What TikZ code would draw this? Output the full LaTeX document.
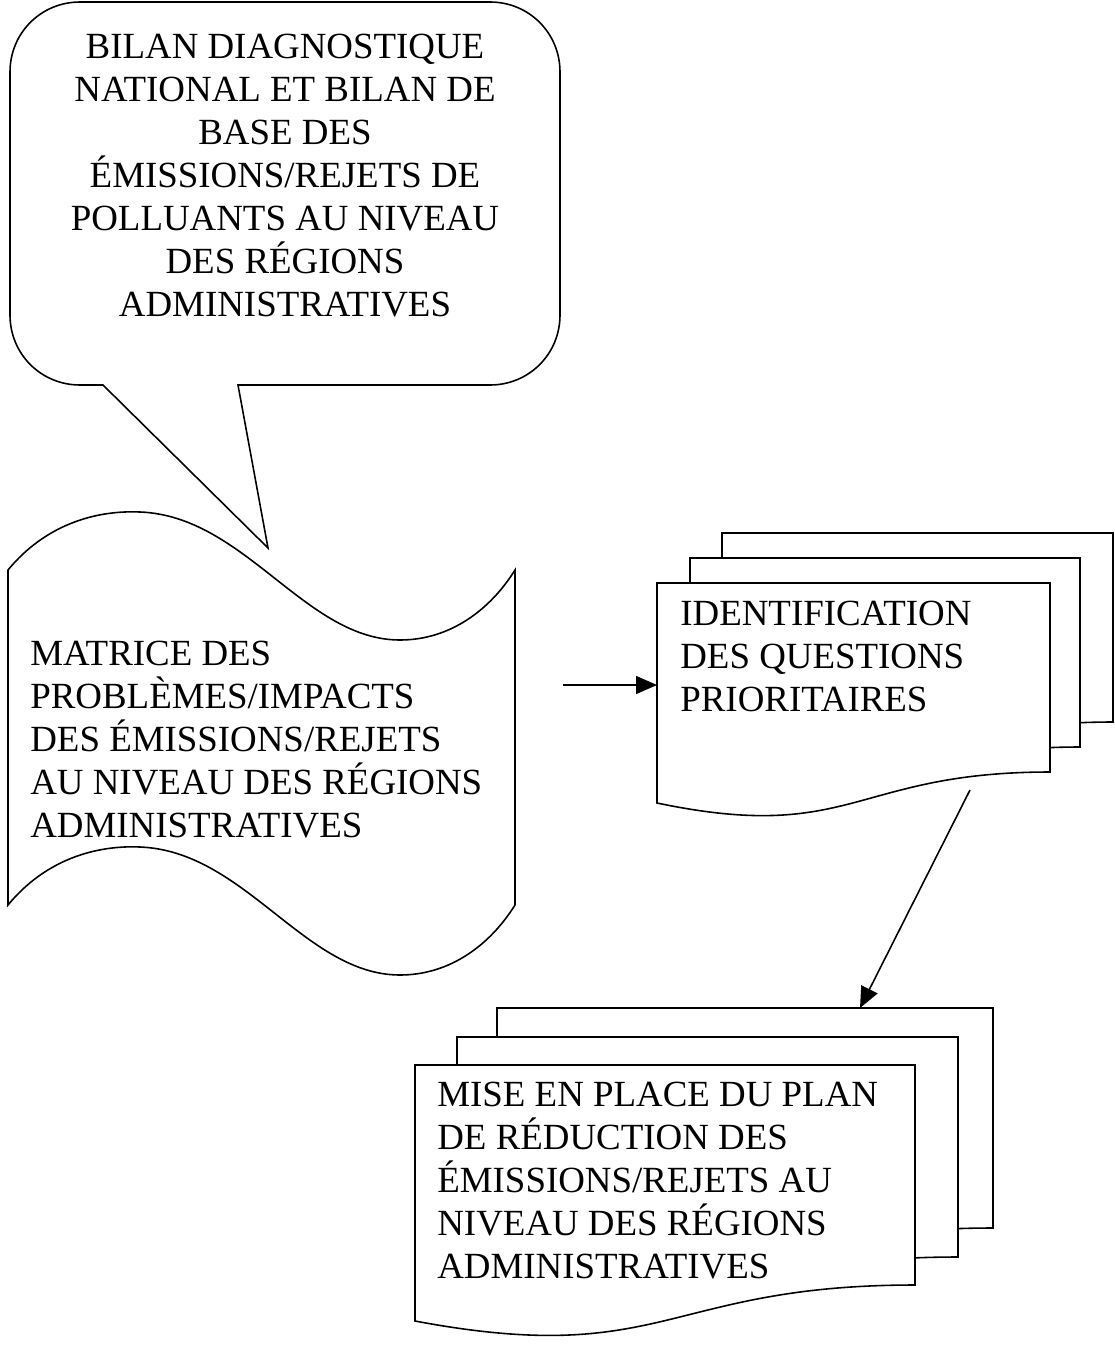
\documentclass[tikz,border=0pt]{standalone}
\usepackage{fontspec}
\setmainfont{Liberation Serif}
\usetikzlibrary{arrows.meta}

\begin{document}
\begin{tikzpicture}[x=0.02cm, y=-0.02cm,
  shapeline/.style={draw=black, fill=white, line width=0.9pt},
  doctext/.style={inner sep=0pt, font=\fontsize{21}{24.4}\selectfont},
  flow/.style={-{Triangle[length=0.42cm,width=0.36cm]}, line width=0.9pt}]

\useasboundingbox (0,0) rectangle (1115,1349);

\draw[shapeline] (103,385) -- (268,548) -- (238,385) -- (490,385) .. controls (529,385) and (560,354) .. (560,315) -- (560,72) .. controls (560,33) and (529,2) .. (490,2) -- (80,2) .. controls (41,2) and (10,33) .. (10,72) -- (10,315) .. controls (10,354) and (41,385) .. (80,385) -- cycle;
\node[doctext, align=center, anchor=base] (bilan) at (285,316) {BILAN DIAGNOSTIQUE\\NATIONAL ET BILAN DE\\BASE DES\\ÉMISSIONS/REJETS DE\\POLLUANTS AU NIVEAU\\DES RÉGIONS\\ADMINISTRATIVES};

\draw[shapeline] (8,570) .. controls (45,525) and (95,510) .. (140,512) .. controls (245,516) and (305,640) .. (400,640) .. controls (450,640) and (490,610) .. (515,570) -- (515,905) .. controls (490,945) and (450,975) .. (400,975) .. controls (305,975) and (245,851) .. (140,847) .. controls (95,845) and (45,860) .. (8,905) -- cycle;
\node[doctext, align=left, anchor=base west] (matrice) at (30,837) {MATRICE DES\\PROBLÈMES/IMPACTS\\DES ÉMISSIONS/REJETS\\AU NIVEAU DES RÉGIONS\\ADMINISTRATIVES};

\draw[shapeline] (722,533) -- (1113,533) -- (1113,722) .. controls (917,722) and (917,794) .. (722,753) -- cycle;
\draw[shapeline] (690,558) -- (1080,558) -- (1080,747) .. controls (885,747) and (885,819) .. (690,778) -- cycle;
\draw[shapeline] (657,583) -- (1050,583) -- (1050,772) .. controls (853,772) and (853,844) .. (657,803) -- cycle;
\node[doctext, align=left, anchor=base west] (identif) at (680,711) {IDENTIFICATION\\DES QUESTIONS\\PRIORITAIRES};

\draw[shapeline] (497,1008) -- (993,1008) -- (993,1228) .. controls (745,1228) and (745,1311) .. (497,1264) -- cycle;
\draw[shapeline] (457,1037) -- (958,1037) -- (958,1257) .. controls (707,1257) and (707,1340) .. (457,1293) -- cycle;
\draw[shapeline] (415,1065) -- (915,1065) -- (915,1285) .. controls (665,1285) and (665,1368) .. (415,1321) -- cycle;
\node[doctext, align=left, anchor=base west] (plan) at (437,1278) {MISE EN PLACE DU PLAN\\DE RÉDUCTION DES\\ÉMISSIONS/REJETS AU\\NIVEAU DES RÉGIONS\\ADMINISTRATIVES};

\coordinate (matriceout) at (563,685);
\coordinate (identifin) at (657,685);
\coordinate (identifout) at (970,790);
\coordinate (planin) at (860,1008);
\draw[flow] (matriceout) -- (identifin);
\draw[flow] (identifout) -- (planin);

\end{tikzpicture}
\end{document}
